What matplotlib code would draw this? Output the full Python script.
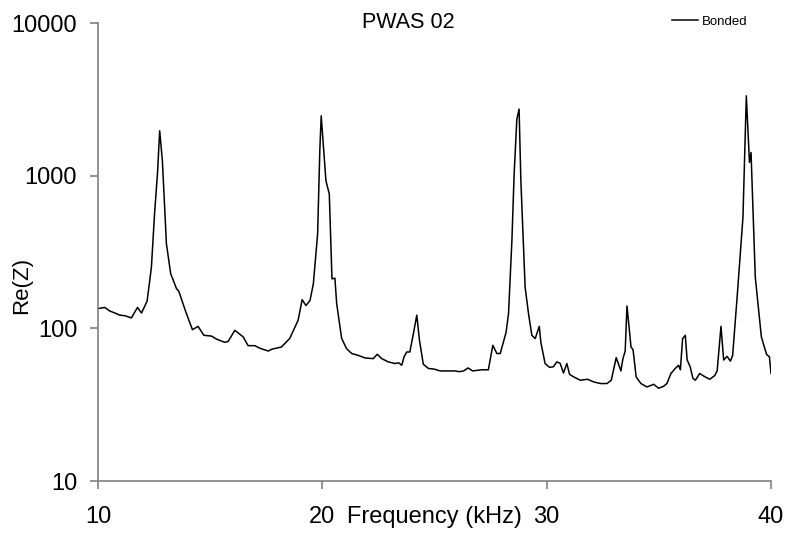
import matplotlib
matplotlib.use("Agg")
import matplotlib.pyplot as plt
from matplotlib.ticker import FixedLocator, NullLocator, FixedFormatter

plt.rcParams['font.family'] = ['Liberation Sans', 'DejaVu Sans']

# Frequency (kHz) and Re(Z)
freq = [10.0, 10.04, 10.3, 10.52, 10.75, 10.97, 11.2, 11.49, 11.76, 11.94, 12.19, 12.38,
        12.53, 12.65, 12.75, 12.87, 13.05, 13.24, 13.5, 13.6, 13.94, 14.21, 14.46, 14.72,
        15.06, 15.28, 15.65, 15.8, 16.1, 16.47, 16.69, 16.99, 17.22, 17.59, 17.75, 17.93,
        18.18, 18.55, 18.92, 19.1, 19.27, 19.45, 19.6, 19.79, 19.89, 19.95, 20.16, 20.31,
        20.43, 20.56, 20.64, 20.86, 21.08, 21.31, 21.6, 21.9, 22.27, 22.45, 22.65, 22.94,
        23.24, 23.4, 23.54, 23.64, 23.76, 23.9, 24.06, 24.21, 24.33, 24.5, 24.73, 25.0,
        25.25, 25.6, 25.92, 26.1, 26.3, 26.5, 26.7, 27.1, 27.4, 27.6, 27.78, 27.93, 28.19,
        28.3, 28.45, 28.55, 28.67, 28.77, 28.85, 29.04, 29.19, 29.34, 29.49, 29.67, 29.74,
        29.93, 30.13, 30.3, 30.45, 30.6, 30.75, 30.9, 31.02, 31.2, 31.5, 31.82, 32.09,
        32.39, 32.69, 32.88, 33.1, 33.31, 33.4, 33.5, 33.58, 33.76, 33.85, 33.99, 34.2,
        34.47, 34.77, 34.99, 35.21, 35.36, 35.54, 35.73, 35.88, 35.96, 36.06, 36.18, 36.26,
        36.4, 36.52, 36.63, 36.82, 37.07, 37.27, 37.49, 37.6, 37.77, 37.89, 38.04, 38.19,
        38.29, 38.49, 38.63, 38.75, 38.9, 39.04, 39.11, 39.3, 39.57, 39.8, 39.93, 40.0]
re_z = [136, 135, 137, 130, 126, 122, 121, 117, 137, 126, 151, 251,
        590, 1025, 1968, 1253, 358, 228, 182, 175, 125, 98, 103, 90,
        89, 85, 81, 82, 97, 88, 77, 77, 74, 71, 73, 74,
        75.5, 86, 113, 154, 141, 152, 196, 416, 1496, 2466, 927, 758,
        211, 213, 145, 86, 73.6, 68.4, 66.5, 64, 63.3, 67.6, 63.3, 60.3,
        58.8, 59.5, 57.3, 64.9, 70, 70, 92.3, 122, 83.5, 58.2, 54.6, 54,
        52.6, 52.6, 52.6, 52, 52.6, 55, 52.6, 53.5, 53.5, 77.4, 68.4, 68.4, 94,
        125, 376, 1025, 2340, 2730, 927, 186, 125, 90, 85.7, 103, 81,
        58.8, 55.5, 56, 60.3, 59, 51, 58.8, 50, 48.1, 45.7, 46.4, 44.6,
        43.5, 43.5, 45.7, 64.3, 52.6, 63.3, 71, 140, 75.5, 72.5, 48, 43.5,
        41.3, 43, 40.5, 41.7, 43.5, 50.6, 54.6, 57.3, 53.5, 85.7, 90, 62.3,
        55.8, 47, 45.7, 50.6, 48, 46.4, 49, 52.6, 103, 62, 65.5, 61,
        66.5, 160, 308, 534, 3334, 1222, 1419, 216, 88, 67.6, 65, 50.6]

x_ticks = [10, 20, 30, 40]
y_ticks = [10, 100, 1000, 10000]
y_tick_labels = ["10", "100", "1000", "10000"]

W, H = 787, 539
fig = plt.figure(figsize=(W / 100, H / 100), dpi=100)
ax = fig.add_axes([98 / W, 1 - 481 / H, (771 - 98) / W, (481 - 23) / H])

ax.plot(freq, re_z, color='black', lw=1.1, label='Bonded')
ax.set_yscale('log')
ax.set_xlim(10, 40)
ax.set_ylim(10, 10000)
ax.xaxis.set_major_locator(FixedLocator(x_ticks))
ax.yaxis.set_major_locator(FixedLocator(y_ticks))
ax.yaxis.set_major_formatter(FixedFormatter(y_tick_labels))
ax.yaxis.set_minor_locator(NullLocator())

for s in ['top', 'right']:
    ax.spines[s].set_visible(False)
for s in ['left', 'bottom']:
    ax.spines[s].set_color('#808080')
    ax.spines[s].set_linewidth(1.2)
ax.tick_params(axis='both', colors='#808080', length=6, width=1.2, labelcolor='black',
               labelsize=17)
ax.tick_params(axis='x', pad=12)
ax.tick_params(axis='y', pad=9)

ax.set_xlabel('Frequency (kHz)', fontsize=17)
ax.xaxis.set_label_coords(0.5, (481 - 517) / 458)
ax.xaxis.label.set_va('center')
ax.set_ylabel('Re(Z)', fontsize=16)
ax.yaxis.set_label_coords((22 - 98) / 673, (481 - 285) / 458)
ax.yaxis.label.set_va('center')

fig.text(408 / W, 1 - 23 / H, 'PWAS 02', ha='center', va='center', fontsize=15.5)
fig.legend(loc='center left', bbox_to_anchor=(672 / W, 1 - 22 / H), frameon=False,
           fontsize=9.5, handlelength=2.0, handletextpad=0.25, borderpad=0, borderaxespad=0)

fig.savefig('out.png', dpi=100)
